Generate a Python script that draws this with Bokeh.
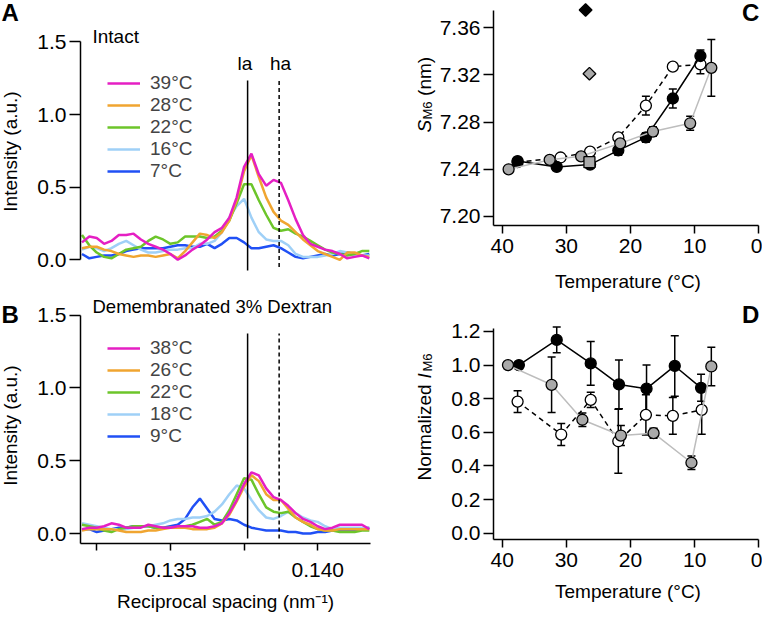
import math
from bokeh.plotting import figure
from bokeh.layouts import row, column
from bokeh.models import (Range1d, FixedTicker, Legend, LegendItem, Label, Whisker,
                          TeeHead, ColumnDataSource, NumeralTickFormatter)
from bokeh.embed import file_html
from bokeh.resources import INLINE

FONT = "Liberation Sans"

# ---------------- data: spectra (panels A, B) ----------------
spacing = [0.13200, 0.13225, 0.13250, 0.13275, 0.13300, 0.13325, 0.13350, 0.13375,
           0.13400, 0.13425, 0.13450, 0.13475, 0.13500, 0.13525, 0.13550, 0.13575,
           0.13600, 0.13625, 0.13650, 0.13675, 0.13700, 0.13725, 0.13750, 0.13775,
           0.13800, 0.13825, 0.13850, 0.13875, 0.13900, 0.13925, 0.13950, 0.13975,
           0.14000, 0.14025, 0.14050, 0.14075, 0.14100, 0.14125, 0.14150, 0.14175]

intact_labels = ["39°C", "28°C", "22°C", "16°C", "7°C"]
intact_39 = [0.12, 0.16, 0.15, 0.11, 0.13, 0.17, 0.17, 0.18, 0.14, 0.11, 0.09, 0.07, 0.04, 0.00, 0.03, 0.07,
             0.10, 0.14, 0.19, 0.22, 0.29, 0.43, 0.64, 0.73, 0.59, 0.51, 0.55, 0.53, 0.41, 0.28,
             0.17, 0.11, 0.09, 0.07, 0.06, 0.04, 0.01, 0.02, 0.03, 0.01]
intact_28 = [0.08, 0.09, 0.09, 0.07, 0.06, 0.04, 0.03, 0.02, 0.03, 0.03, 0.02, 0.03, 0.04, 0.01, 0.06, 0.12,
             0.18, 0.17, 0.15, 0.19, 0.27, 0.41, 0.61, 0.72, 0.57, 0.43, 0.33, 0.27, 0.24, 0.19,
             0.14, 0.10, 0.06, 0.04, 0.02, 0.00, 0.05, 0.05, 0.03, 0.02]
intact_22 = [0.17, 0.10, 0.05, 0.02, 0.01, 0.04, 0.07, 0.08, 0.09, 0.13, 0.16, 0.14, 0.11, 0.12, 0.16, 0.16,
             0.16, 0.15, 0.16, 0.20, 0.27, 0.39, 0.52, 0.52, 0.41, 0.31, 0.22, 0.20, 0.21, 0.18,
             0.16, 0.13, 0.10, 0.07, 0.05, 0.04, 0.03, 0.04, 0.06, 0.06]
intact_16 = [0.07, 0.09, 0.08, 0.06, 0.08, 0.11, 0.13, 0.10, 0.07, 0.05, 0.05, 0.06, 0.07, 0.07, 0.08, 0.08,
             0.11, 0.11, 0.13, 0.19, 0.29, 0.37, 0.42, 0.29, 0.19, 0.14, 0.13, 0.13, 0.10, 0.04,
             0.02, 0.02, 0.02, 0.03, 0.04, 0.06, 0.05, 0.03, 0.03, 0.03]
intact_7 = [0.04, 0.01, 0.02, 0.03, 0.03, 0.04, 0.06, 0.07, 0.08, 0.08, 0.08, 0.08, 0.09, 0.10, 0.10, 0.09,
            0.09, 0.11, 0.08, 0.11, 0.15, 0.15, 0.12, 0.08, 0.08, 0.09, 0.10, 0.08, 0.05, 0.02,
            0.01, 0.02, 0.03, 0.04, 0.03, 0.04, 0.05, 0.04, 0.03, 0.04]

demem_labels = ["38°C", "26°C", "22°C", "18°C", "9°C"]
demem_38 = [0.03, 0.04, 0.04, 0.05, 0.07, 0.06, 0.04, 0.04, 0.04, 0.06, 0.05, 0.04, 0.04, 0.05, 0.05, 0.05,
            0.04, 0.04, 0.05, 0.07, 0.14, 0.23, 0.34, 0.42, 0.40, 0.31, 0.25, 0.23, 0.19, 0.14,
            0.10, 0.08, 0.05, 0.03, 0.04, 0.06, 0.06, 0.06, 0.06, 0.03]
demem_26 = [0.02, 0.03, 0.03, 0.03, 0.03, 0.02, 0.01, 0.01, 0.01, 0.02, 0.02, 0.03, 0.04, 0.04, 0.04, 0.03,
            0.03, 0.03, 0.04, 0.07, 0.13, 0.22, 0.32, 0.40, 0.36, 0.27, 0.23, 0.23, 0.17, 0.11,
            0.08, 0.06, 0.03, 0.02, 0.02, 0.03, 0.03, 0.03, 0.03, 0.03]
demem_22 = [0.06, 0.05, 0.04, 0.02, 0.01, 0.03, 0.04, 0.05, 0.05, 0.05, 0.04, 0.04, 0.04, 0.04, 0.05, 0.06,
            0.08, 0.10, 0.06, 0.08, 0.16, 0.27, 0.38, 0.37, 0.27, 0.18, 0.15, 0.14, 0.15, 0.11,
            0.08, 0.05, 0.03, 0.02, 0.02, 0.01, 0.01, 0.01, 0.02, 0.02]
demem_18 = [0.07, 0.06, 0.05, 0.04, 0.03, 0.03, 0.03, 0.04, 0.05, 0.05, 0.06, 0.07, 0.09, 0.10, 0.10, 0.11,
            0.11, 0.12, 0.15, 0.20, 0.27, 0.33, 0.31, 0.23, 0.16, 0.11, 0.10, 0.12, 0.15, 0.14,
            0.11, 0.09, 0.08, 0.05, 0.03, 0.04, 0.04, 0.04, 0.04, 0.04]
demem_9 = [0.03, 0.03, 0.01, 0.02, 0.03, 0.04, 0.04, 0.05, 0.05, 0.05, 0.04, 0.04, 0.05, 0.06, 0.10, 0.18,
           0.24, 0.17, 0.10, 0.09, 0.10, 0.09, 0.06, 0.04, 0.03, 0.02, 0.02, 0.02, 0.01, 0.01,
           0.00, 0.00, 0.01, 0.01, 0.02, 0.02, 0.02, 0.02, 0.03, 0.04]

la_pos = 0.13762
ha_pos = 0.13869

# ---------------- data: panel C (S_M6) ----------------
c_black_T = [37.6, 31.5, 26.3, 21.9, 17.6, 13.4, 9.1]
c_black_S = [7.247, 7.242, 7.244, 7.256, 7.267, 7.300, 7.336]
c_black_E = [0.003, 0.002, 0.002, 0.004, 0.004, 0.008, 0.005]
c_open_T = [37.6, 30.9, 26.3, 21.9, 17.6, 13.4, 9.1]
c_open_S = [7.246, 7.250, 7.255, 7.267, 7.294, 7.327, 7.329]
c_open_E = [0.002, 0.002, 0.002, 0.003, 0.008, 0.002, 0.008]
c_gray_T = [39.0, 32.6, 27.7, 21.6, 16.5, 10.7, 7.4]
c_gray_S = [7.240, 7.248, 7.251, 7.262, 7.272, 7.279, 7.326]
c_gray_E = [0.002, 0.002, 0.002, 0.003, 0.004, 0.006, 0.024]
c_square_T = [26.4]
c_square_S = [7.246]
c_diam_black_T = [27.0]
c_diam_black_S = [7.375]
c_diam_gray_T = [26.4]
c_diam_gray_S = [7.321]

# ---------------- data: panel D (normalized I_M6) ----------------
d_black_T = [37.4, 31.5, 26.2, 21.8, 17.5, 13.1, 9.0]
d_black_I = [1.00, 1.15, 1.01, 0.885, 0.86, 0.995, 0.865]
d_black_E = [0.0, 0.077, 0.13, 0.145, 0.14, 0.18, 0.08]
d_open_T = [37.6, 30.8, 26.2, 21.9, 17.6, 13.4, 8.9]
d_open_I = [0.783, 0.587, 0.793, 0.547, 0.704, 0.698, 0.734]
d_open_E = [0.065, 0.065, 0.045, 0.19, 0.12, 0.11, 0.145]
d_gray_T = [39.1, 32.3, 27.5, 21.5, 16.4, 10.5, 7.4]
d_gray_I = [1.00, 0.883, 0.675, 0.581, 0.595, 0.419, 0.992]
d_gray_E = [0.0, 0.165, 0.04, 0.06, 0.03, 0.04, 0.115]

COLORS = ["#e51fc3", "#f0a530", "#6cc52a", "#9fd0f7", "#2050f5"]
GRAY = "#a9a9a9"
TICK_FS = "21px"
TEXT_FS = "19px"


def style_axis(ax, tick_out, standoff):
    ax.axis_line_width = 1.5
    ax.axis_line_color = "black"
    ax.major_tick_line_width = 1.5
    ax.major_tick_line_color = "black"
    ax.major_tick_out = tick_out
    ax.major_tick_in = 0
    ax.minor_tick_in = 0
    ax.minor_tick_out = tick_out
    ax.minor_tick_line_width = 1.5
    ax.minor_tick_line_color = "black"
    ax.major_label_standoff = standoff
    ax.major_label_text_font = FONT
    ax.major_label_text_font_size = TICK_FS
    ax.major_label_text_color = "black"
    ax.axis_label_text_font = FONT
    ax.axis_label_text_font_size = TEXT_FS
    ax.axis_label_text_font_style = "normal"
    ax.axis_label_text_color = "black"


def make_fig(w, h, xr, yr, ml, mr, mt, mb):
    p = figure(width=w, height=h, x_range=xr, y_range=yr, output_backend="svg",
               toolbar_location=None, min_border_left=ml, min_border_right=mr,
               min_border_top=mt, min_border_bottom=mb)
    p.outline_line_color = None
    p.xgrid.visible = False
    p.ygrid.visible = False
    return p


def side_fig(w, h):
    p = make_fig(w, h, Range1d(0, w), Range1d(0, h), 0, 0, 0, 0)
    p.xaxis.visible = False
    p.yaxis.visible = False
    return p


def label(p, x, y, text, size=TEXT_FS, style="normal", angle=0.0, align="left",
          units="screen"):
    # text anchored at the middle of its line
    p.add_layout(Label(x=x, y=y, x_units=units, y_units=units, text=text,
                       text_font=FONT, text_font_size=size, text_font_style=style,
                       text_color="black", angle=angle, text_align=align,
                       text_baseline="middle"))


def spectra_panel(p, series, labels, loc, ybounds):
    rends = [None] * len(series)
    # draw the coldest first so the warmest (magenta) is on top
    for i in range(len(series) - 1, -1, -1):
        rends[i] = p.line(spacing, series[i], line_color=COLORS[i], line_width=2.5)
    items = [LegendItem(label=l, renderers=[r]) for l, r in zip(labels, rends)]
    leg = Legend(items=items, location=loc)
    leg.glyph_width = 33
    leg.glyph_height = 22
    leg.label_height = 22
    leg.label_standoff = 10
    leg.spacing = 0
    leg.padding = 0
    leg.margin = 0
    leg.border_line_color = None
    leg.background_fill_alpha = 0
    leg.label_text_font = FONT
    leg.label_text_font_size = TEXT_FS
    p.add_layout(leg)
    p.yaxis.ticker = FixedTicker(ticks=[0.0, 0.5, 1.0, 1.5])
    p.yaxis.formatter = NumeralTickFormatter(format="0.0")
    p.yaxis.bounds = ybounds
    style_axis(p.yaxis[0], 11, 3)


XR_SPEC = (0.13195, 0.14179)
H_A, H_B = 294, 323
H_C, H_D = 296, 321

# ---------------- Panel A ----------------
pA = make_fig(376, H_A, Range1d(*XR_SPEC), Range1d(-0.1012, 1.6057), 56, 30, 26, 20)
spectra_panel(pA, [intact_39, intact_28, intact_22, intact_16, intact_7], intact_labels, (27, 92),
              (0, 1.5))
pA.xaxis.visible = False
pA.segment(x0=[la_pos], y0=[-0.074], x1=[la_pos], y1=[1.234], line_color="black", line_width=1.5)
pA.segment(x0=[ha_pos], y0=[-0.05], x1=[ha_pos], y1=[1.234], line_color="black", line_width=1.5,
           line_dash="4 3")
label(pA, 12, 237.6, "Intact")
label(pA, 164.5, 210.7, "la", align="center")
label(pA, 200, 210.7, "ha", align="center")

# ---------------- Panel B ----------------
pB = make_fig(376, H_B, Range1d(*XR_SPEC), Range1d(-0.0687, 1.6217), 56, 30, 3, 74)
spectra_panel(pB, [demem_38, demem_26, demem_22, demem_18, demem_9], demem_labels, (27, 96),
              (-0.0687, 1.5))
pB.xaxis.ticker = FixedTicker(ticks=[0.135, 0.140], minor_ticks=[0.1325, 0.1375])
pB.xaxis.formatter = NumeralTickFormatter(format="0.000")
pB.xaxis.axis_label = "Reciprocal spacing (nm\u207b\u00b9)"
style_axis(pB.xaxis[0], 7, 12)
pB.xaxis.axis_label_standoff = 11
pB.segment(x0=[la_pos], y0=[-0.034], x1=[la_pos], y1=[1.375], line_color="black", line_width=1.5)
pB.segment(x0=[ha_pos], y0=[-0.034], x1=[ha_pos], y1=[1.375], line_color="black", line_width=1.5,
           line_dash="4 3")
label(pB, 12, 236.7, "Demembranated 3% Dextran", size="18.5px")

# ---------------- left strip: panel letters and y titles of A/B ----------------
sL = side_fig(24, H_A + H_B)
label(sL, 1, 605, "A", size="24px", style="bold")
label(sL, 1, 302.7, "B", size="24px", style="bold")
label(sL, 9.5, 466, "Intensity (a.u.)", angle=math.pi / 2, align="center")
label(sL, 9.5, 192, "Intensity (a.u.)", angle=math.pi / 2, align="center")


def add_err(p, x, y, e):
    src = ColumnDataSource(dict(x=x, u=[a + b for a, b in zip(y, e)],
                                l=[a - b for a, b in zip(y, e)]))
    w = Whisker(source=src, base="x", upper="u", lower="l", dimension="height",
                line_width=1.5, line_color="black", level="underlay",
                upper_head=TeeHead(size=8, line_width=1.5, line_color="black"),
                lower_head=TeeHead(size=8, line_width=1.5, line_color="black"))
    p.add_layout(w)


def temp_panel(p, open_s, black_s, gray_s, label_standoff):
    for T, Y, E in (open_s, black_s, gray_s):
        add_err(p, T, Y, E)
    T, Y, E = open_s
    p.line(T, Y, line_color="black", line_width=1.5, line_dash="5 4")
    p.scatter(T, Y, marker="circle", size=11, fill_color="white", line_color="black", line_width=1.3)
    T, Y, E = black_s
    p.line(T, Y, line_color="black", line_width=1.5)
    p.scatter(T, Y, marker="circle", size=11, fill_color="black", line_color="black", line_width=1.3)
    T, Y, E = gray_s
    p.line(T, Y, line_color="#bdbdbd", line_width=1.5)
    p.scatter(T, Y, marker="circle", size=11, fill_color=GRAY, line_color="black", line_width=1.3)
    p.xaxis.ticker = FixedTicker(ticks=[0, 10, 20, 30, 40])
    p.xaxis.axis_label = "Temperature (°C)"
    p.xaxis.bounds = (0, 41.356)
    style_axis(p.xaxis[0], 8, 5)
    p.xaxis.axis_label_standoff = label_standoff


XR_T = (41.356, -0.577)

# ---------------- Panel C ----------------
pC = make_fig(326, H_C, Range1d(*XR_T), Range1d(7.19237, 7.38305), 57, 0, 0, 71)
temp_panel(pC, (c_open_T, c_open_S, c_open_E), (c_black_T, c_black_S, c_black_E),
           (c_gray_T, c_gray_S, c_gray_E), 15)
pC.scatter(c_square_T, c_square_S, marker="square", size=11, fill_color=GRAY,
           line_color="black", line_width=1.3)
pC.scatter(c_diam_black_T, c_diam_black_S, marker="square", angle=math.pi / 4, size=9,
           fill_color="black", line_color="black", line_width=1.3)
pC.scatter(c_diam_gray_T, c_diam_gray_S, marker="square", angle=math.pi / 4, size=9,
           fill_color=GRAY, line_color="black", line_width=1.3)
pC.yaxis.ticker = FixedTicker(ticks=[7.20, 7.24, 7.28, 7.32, 7.36])
pC.yaxis.formatter = NumeralTickFormatter(format="0.00")
pC.yaxis.bounds = (7.19237, 7.3747)
style_axis(pC.yaxis[0], 10, 3)
label(pC, 2.6, 7.3733, "C", size="24px", style="bold", units="data")

# ---------------- Panel D ----------------
pD = make_fig(326, H_D, Range1d(*XR_T), Range1d(-0.0375, 1.3844), 57, 0, 4, 78)
temp_panel(pD, (d_open_T, d_open_I, d_open_E), (d_black_T, d_black_I, d_black_E),
           (d_gray_T, d_gray_I, d_gray_E), 11)
pD.yaxis.ticker = FixedTicker(ticks=[0.0, 0.2, 0.4, 0.6, 0.8, 1.0, 1.2])
pD.yaxis.formatter = NumeralTickFormatter(format="0.0")
pD.yaxis.bounds = (-0.0375, 1.218)
style_axis(pD.yaxis[0], 10, 3)
label(pD, 2.6, 1.304, "D", size="24px", style="bold", units="data")

# ---------------- middle strip: y titles of C/D ----------------
sM = side_fig(36, H_C + H_D)
label(sM, 24.2, 485, "S", style="italic", angle=math.pi / 2)
label(sM, 27.3, 498, "M6", size="13px", angle=math.pi / 2)
label(sM, 24.2, 521.6, "(nm)", angle=math.pi / 2)
label(sM, 24.2, 137, "Normalized", angle=math.pi / 2)
label(sM, 24.2, 239, "I", style="italic", angle=math.pi / 2)
label(sM, 27.3, 246, "M6", size="13px", angle=math.pi / 2)

layout = row(sL, column(pA, pB), sM, column(pC, pD))
open("out.html", "w").write(file_html(layout, INLINE))
